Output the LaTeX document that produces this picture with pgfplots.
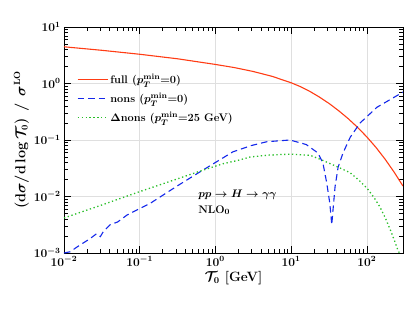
\documentclass[border=0pt]{standalone}
\usepackage{pgfplots}
\pgfplotsset{compat=1.18}
\definecolor{cfull}{RGB}{255,60,20}
\definecolor{cnons}{RGB}{20,40,235}
\definecolor{cdnons}{RGB}{40,190,40}
\newcommand{\bigf}{\fontsize{12}{14}\selectfont\bfseries\boldmath}
\newcommand{\legf}{\fontsize{11}{13}\selectfont\bfseries\boldmath}
\begin{document}
\begin{tikzpicture}
\begin{axis}[
  name=ax,
  scale only axis,
  width=339pt, height=226pt,
  xmode=log, ymode=log,
  xmin=0.01, xmax=300, ymin=1e-3, ymax=10,
  xtick={0.01,0.1,1,10,100},
  xticklabels={$10^{-2}$,$10^{-1}$,$10^{0}$,$10^{1}$,$10^{2}$},
  ytick={0.001,0.01,0.1,1,10},
  yticklabels={$10^{-3}$,$10^{-2}$,$10^{-1}$,$10^{0}$,$10^{1}$},
  grid=major,
  major grid style={gray!25, line width=0.6pt},
  tick align=inside,
  major tick length=7pt, minor tick length=4pt,
  tick style={black, line width=0.5pt},
  axis line style={black, line width=0.5pt},
  every tick label/.append style={font=\bigf},
  xlabel={$\mathcal{T}_0$ [GeV]},
  ylabel={$(\mathrm{d}\sigma/\mathrm{d}\log\mathcal{T}_0)\enspace/\enspace\sigma^{\mathrm{LO}}$},
  label style={font=\fontsize{13.5}{15}\selectfont\bfseries\boldmath},
  xlabel style={yshift=2pt},
  ylabel style={yshift=-2pt},
  legend style={at={(0.035,0.805)}, anchor=north west, draw=none, fill=none,
    font=\legf, row sep=4pt, inner sep=1pt},
  legend cell align=left,
  legend image code/.code={\draw[#1, line width=1.3pt] (0pt,0pt) -- (30pt,0pt);},
]
\addplot[cfull, line width=1.1pt] coordinates {
(0.01,4.467) (0.0316,3.869) (0.1,3.293) (0.316,2.738) (1,2.175) (1.778,1.914)
(3.162,1.631) (5.623,1.337) (10,1.03) (13.34,0.877) (17.78,0.721) (23.71,0.574)
(31.62,0.444) (42.17,0.332) (56.23,0.241) (74.99,0.1687) (100,0.1132)
(131.8,0.0740) (173.8,0.0459) (229.1,0.0270) (300,0.0153)};
\addlegendentry{full ($p_T^{\mathrm{min}}$=0)}
\addplot[cnons, line width=1.1pt, dash pattern=on 6.5pt off 4pt] coordinates {
(0.01,0.001) (0.0120,0.00105) (0.0162,0.00138) (0.0219,0.00178) (0.0269,0.00219)
(0.0302,0.00195) (0.0331,0.00240) (0.0407,0.00316) (0.0513,0.00355)
(0.0676,0.00468) (0.0912,0.00575) (0.138,0.00759) (0.316,0.0155)
(0.631,0.0275) (1.70,0.0617) (3.0,0.08) (4.79,0.0933) (9.66,0.1) (15.8,0.0832)
(22.6,0.0589) (26.3,0.0389) (29.5,0.0174) (32.4,0.00759) (34.4,0.00316)
(35.7,0.00575) (38.0,0.0148) (41.7,0.0331) (48.4,0.0589) (60.3,0.112)
(81.3,0.200) (136,0.380) (302,0.708)};
\addlegendentry{nons ($p_T^{\mathrm{min}}$=0)}
\addplot[cdnons, line width=1.3pt, dash pattern=on 1.3pt off 2.6pt] coordinates {
(0.01,0.00417) (0.0316,0.00708) (0.1,0.0122) (0.631,0.0282) (1.26,0.038) (2.0,0.0437)
(2.88,0.0501) (5.0,0.054) (9.66,0.0562) (17.8,0.0537) (25.1,0.0447) (41.7,0.0331)
(60.3,0.0263) (80,0.019) (100,0.0141) (125,0.0095) (148,0.0066) (175,0.0042) (204,0.00257) (230,0.0017) (257,0.00112) (269,0.001)};
\addlegendentry{$\Delta$nons ($p_T^{\mathrm{min}}$=25 GeV)}
\node[anchor=base west, font=\legf, inner sep=0pt] at (axis cs:0.59,0.0098) {$pp\to H\to\gamma\gamma$};
\node[anchor=base west, font=\legf, inner sep=0pt] at (axis cs:0.59,0.0051) {NLO$_0$};
\end{axis}
\pgfresetboundingbox
\path ([shift={(-64pt,-56pt)}]ax.south west) rectangle ([shift={(4pt,27pt)}]ax.north east);
\end{tikzpicture}
\end{document}
